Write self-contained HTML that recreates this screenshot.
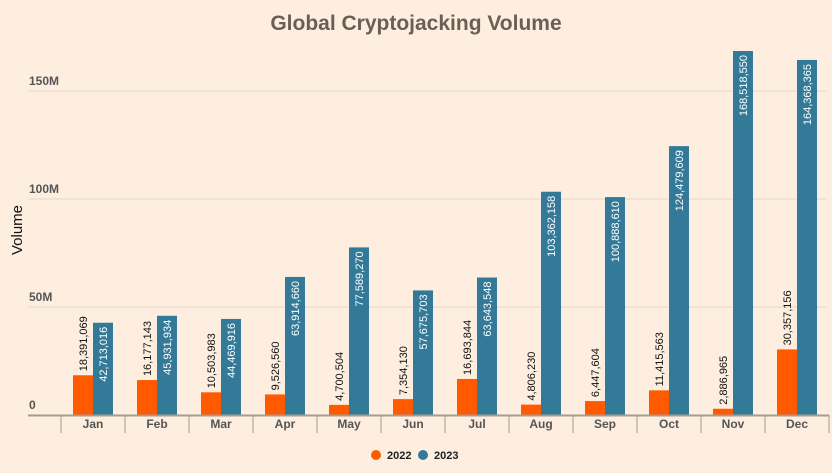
<!DOCTYPE html>
<html><head><meta charset="utf-8"><style>
body{margin:0;background:#fdeee0;}
svg{display:block;font-family:"Liberation Sans Narrow","Liberation Sans",sans-serif;}
</style></head><body>
<svg id="c" width="832" height="473">
<rect width="832" height="473" fill="#fdeee0"/>
<text x="416" y="30" text-anchor="middle" font-size="21" font-weight="bold" fill="#6b5e55">Global Cryptojacking Volume</text>
<text transform="translate(22,230) rotate(-90)" text-anchor="middle" font-size="15" fill="#111">Volume</text>
<g id="grid"></g><g id="bars"></g><g id="xaxis"></g>
<g>
<circle cx="376" cy="455" r="5" fill="#ff5a00"/>
<text x="387" y="459" font-size="11" font-weight="bold" fill="#222">2022</text>
<circle cx="423" cy="455" r="5" fill="#327a98"/>
<text x="434" y="459" font-size="11" font-weight="bold" fill="#222">2023</text>
</g>
</svg>
<script>
const categories=["Jan","Feb","Mar","Apr","May","Jun","Jul","Aug","Sep","Oct","Nov","Dec"];
const s2022=[18391069,16177143,10503983,9526560,4700504,7354130,16693844,4806230,6447604,11415563,2886965,30357156];
const s2023=[42713016,45931934,44469916,63914660,77589270,57675703,63643548,103362158,100888610,124479609,168518550,164368365];
const ticks=[0,50e6,100e6,150e6];
const tickLabels=["0","50M","100M","150M"];
const NS="http://www.w3.org/2000/svg";
const y=v=>415-v/50e6*108;
const xc=i=>93+i*64;
function mk(t,a,p,txt){const e=document.createElementNS(NS,t);for(const k in a)e.setAttribute(k,a[k]);if(txt!=null)e.textContent=txt;p.appendChild(e);return e;}
const fmt=v=>v.toLocaleString("en-US");
const G=document.getElementById("grid"),B=document.getElementById("bars"),X=document.getElementById("xaxis");
ticks.forEach((t,i)=>{
  if(i>0){const l=mk("line",{x1:28,x2:826,y1:y(t),y2:y(t),stroke:"#e3d5c8","stroke-width":1},G);
  
  }
  const tx=mk("text",{x:29,y:y(t)-6,"font-size":12,"font-weight":"600",fill:"#555"},G,tickLabels[i]);
  
  
});
categories.forEach((c,i)=>{
  const cx=xc(i);
  const r1=mk("rect",{x:cx-20,y:y(s2022[i]),width:20,height:415-y(s2022[i]),fill:"#ff5a00"},B);
  
  
  const r2=mk("rect",{x:cx,y:y(s2023[i]),width:20,height:415-y(s2023[i]),fill:"#327a98"},B);
  
  
  const l1=mk("text",{transform:`translate(${cx-6},${y(s2022[i])-4}) rotate(-90)`,"font-size":11,fill:"#111"},B,fmt(s2022[i]));
  
  
  const l2=mk("text",{transform:`translate(${cx+14},${y(s2023[i])+4}) rotate(-90)`,"font-size":11,fill:"#fff","text-anchor":"end"},B,fmt(s2023[i]));
  
  
  const xl=mk("text",{x:cx,y:428,"font-size":12,"font-weight":"600",fill:"#555","text-anchor":"middle"},X,c);
  
  
});
for(let i=0;i<=12;i++){const t=mk("line",{x1:61+i*64,x2:61+i*64,y1:415,y2:433,stroke:"#a89a8e","stroke-width":1},X);

}
const ax=mk("line",{x1:28,x2:829,y1:415.5,y2:415.5,stroke:"#a89a8e","stroke-width":2},X);


</script>
</body></html>
